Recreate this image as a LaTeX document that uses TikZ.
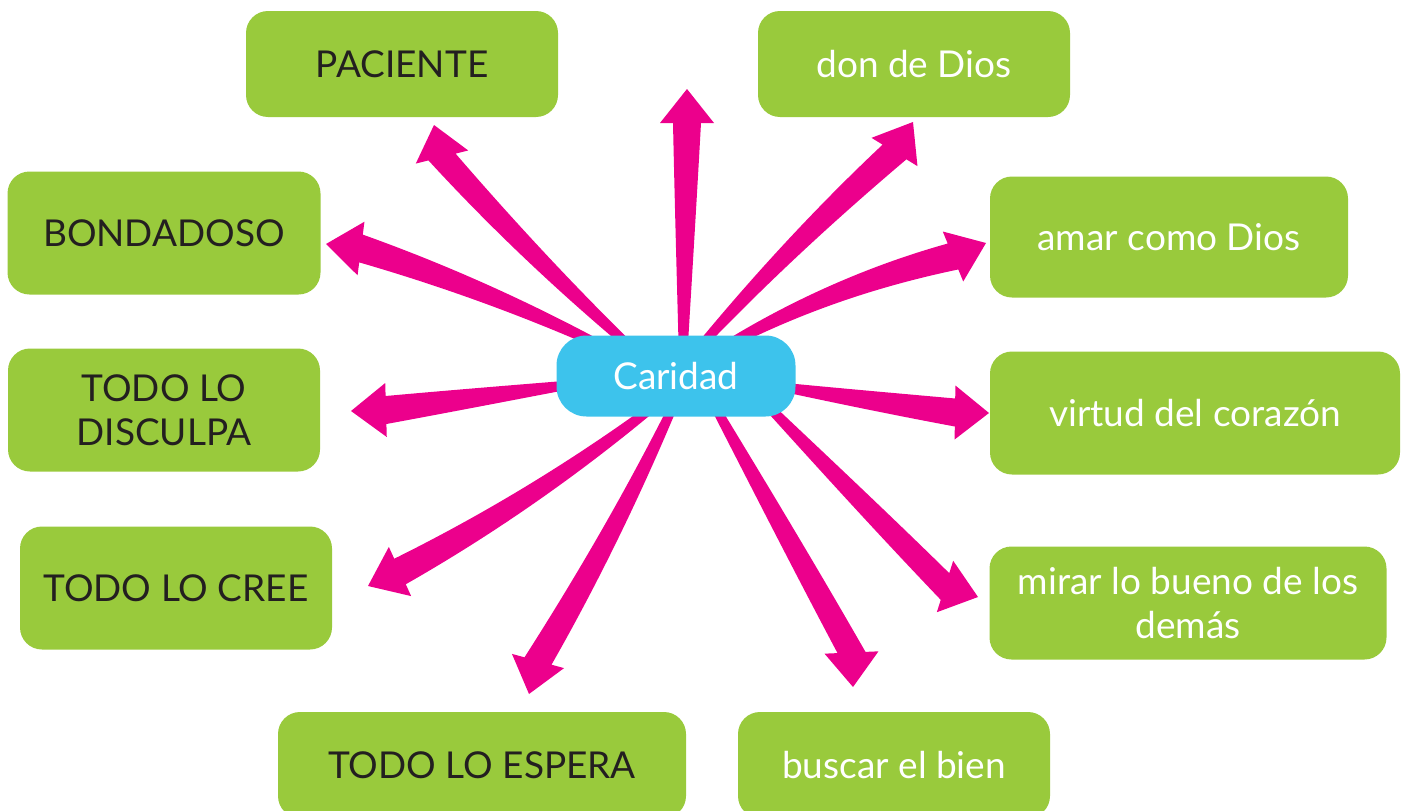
\documentclass[tikz,border=0pt]{standalone}
\usepackage{fontspec}
\setmainfont{Lato}
\usetikzlibrary{calc,backgrounds}

\definecolor{leafgreen}{RGB}{153,202,60}
\definecolor{raypink}{RGB}{236,0,140}
\definecolor{caribue}{RGB}{61,195,236}
\definecolor{inkdark}{RGB}{35,31,32}

\tikzset{
  leaf/.style={fill=leafgreen,rounded corners=22pt,inner sep=0pt,align=center,
    font=\fontsize{37}{44}\selectfont},
  dark/.style={leaf,text=inkdark},
  light/.style={leaf,text=white},
  hub/.style={fill=caribue,rounded corners=30pt,inner sep=0pt,text=white,
    minimum width=239pt,minimum height=81pt,font=\fontsize{37}{44}\selectfont}
}

% tapered bent arrow: start, bend, neck, tip
\newcommand\ray[4]{%
  \path ($(#1)!0.667!(#2)$) coordinate (ca) ($(#3)!0.667!(#2)$) coordinate (cb);
  \fill[raypink] ($(#1)!4pt!90:(#2)$)
    .. controls ($(ca)!7.5pt!90:(#2)$) and ($(cb)!11pt!90:(#3)$) .. ($(#3)!14pt!90:(#4)$)
    -- ($(#3)!27pt!90:(#4)$) -- (#4) -- ($(#3)!27pt!-90:(#4)$) -- ($(#3)!14pt!-90:(#4)$)
    .. controls ($(cb)!11pt!-90:(#3)$) and ($(ca)!7.5pt!-90:(#2)$) .. ($(#1)!4pt!-90:(#2)$)
    -- cycle;}

\begin{document}
\begin{tikzpicture}[x=1pt,y=-1pt]
  \clip (0,0) rectangle (1403,811);
  \node[hub] (car) at (676,376) {Caridad};

  \node[dark,minimum width=312pt,minimum height=106pt] (pac) at (402,64) {PACIENTE};
  \node[dark,minimum width=313pt,minimum height=123pt] (bon) at (164,233) {BONDADOSO};
  \node[dark,minimum width=312pt,minimum height=123pt] (dis) at (164,410) {TODO LO\\DISCULPA};
  \node[dark,minimum width=312pt,minimum height=123pt] (cre) at (176,588) {TODO LO CREE};
  \node[dark,minimum width=408pt,minimum height=106pt] (esp) at (482,765) {TODO LO ESPERA};

  \node[light,minimum width=312pt,minimum height=106pt] (don) at (914,64) {don de Dios};
  \node[light,minimum width=358pt,minimum height=121pt] (ama) at (1169,237) {amar como Dios};
  \node[light,minimum width=410pt,minimum height=123pt] (vir) at (1195,413) {virtud del corazón};
  \node[light,minimum width=397pt,minimum height=113pt] (mir) at (1188,603) {mirar lo bueno de los\\demás};
  \node[light,minimum width=312pt,minimum height=106pt] (bus) at (894,765) {buscar el bien};

  \coordinate (t-pac) at (434,125);
  \coordinate (t-up) at (687,89);
  \coordinate (t-don) at (913,122);
  \coordinate (t-ama) at (986,243);
  \coordinate (t-vir) at (989,413);
  \coordinate (t-mir) at (978,597);
  \coordinate (t-bus) at (853,687);
  \coordinate (t-esp) at (529,694);
  \coordinate (t-cre) at (368,586);
  \coordinate (t-dis) at (351,411);
  \coordinate (t-bon) at (326,244);

  \begin{scope}[on background layer]
    \foreach \st/\bd/\nk/\tp in {
        {-41,-25}/{533,259}/{442,157}/pac,
        {7,-16}/{685,240}/{687,123}/up,
        {21,-26}/{790,245}/{894.5,152}/don,
        {39,-24}/{827,287}/{953,256.5}/ama,
        {99,10}/{865,400}/{955,412.5}/vir,
        {84,22}/{852,492}/{945,586.5}/mir,
        {34,22}/{781,525}/{851.5,652.5}/bus,
        {1,22}/{615,534}/{538,661}/esp,
        {-14,24}/{538,498}/{400,571.5}/cre,
        {-100,8}/{480,397}/{386,410}/dis,
        {-66,-26}/{489,290}/{361,248.5}/bon}
    {
      \coordinate (s) at ($(car.center)+(\st)$);
      \ray{s}{\bd}{\nk}{t-\tp}
    }
  \end{scope}
\end{tikzpicture}
\end{document}
